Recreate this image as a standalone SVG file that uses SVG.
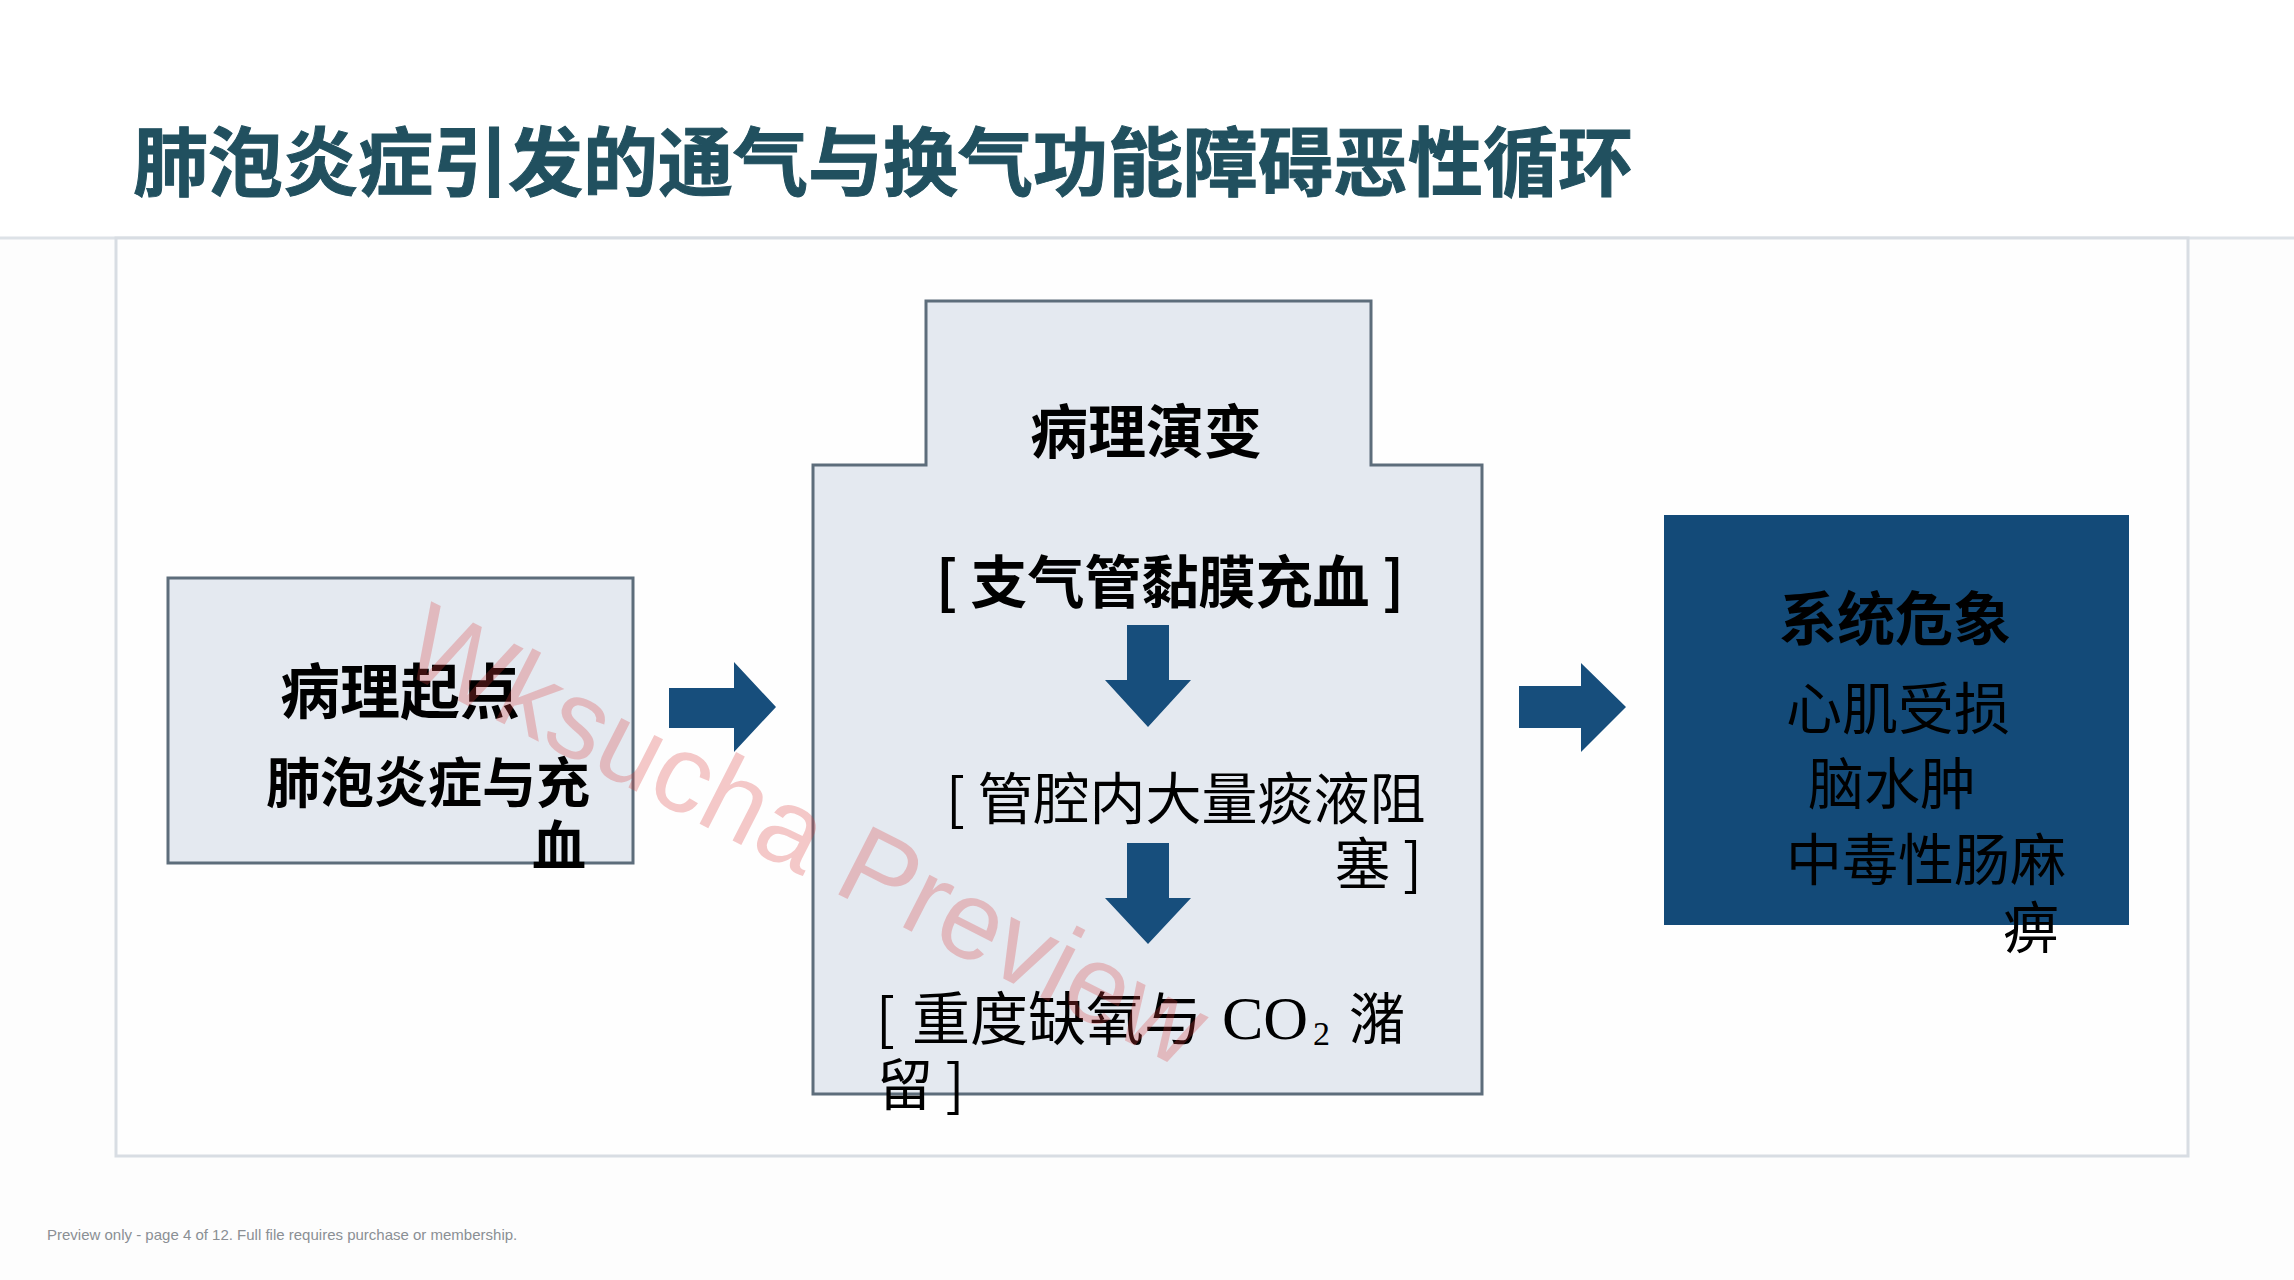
<svg xmlns="http://www.w3.org/2000/svg" width="2294" height="1280" viewBox="0 0 2294 1280">
  <defs>
    <style>
      .cjk { font-family: "Noto Sans CJK SC", "Noto Sans", sans-serif; }
      .b { font-weight: 700; }
      .blk { fill: #000000; }
      .box { fill: #e4e9f0; stroke: #5d6d7b; stroke-width: 3; }
      .arrow { fill: #174e7c; }
      .frame { fill: #fefefe; stroke: #d8dde3; stroke-width: 3; }
    </style>
  </defs>

  <rect x="0" y="0" width="2294" height="1280" fill="#fdfdfd"/>

  <!-- header -->
  <g id="header">
    <rect x="0" y="0" width="2294" height="237" fill="#ffffff"/>
    <line x1="0" y1="238" x2="2294" y2="238" stroke="#dde2e7" stroke-width="3"/>
    <text class="cjk b" x="133" y="190" font-size="75" fill="#21505f" stroke="#21505f" stroke-width="1">肺泡炎症引发的通气与换气功能障碍恶性循环</text>
  </g>

  <!-- panel -->
  <rect class="frame" x="116" y="238" width="2072" height="918"/>

  <!-- node: start -->
  <g id="node-start">
    <rect class="box" x="168" y="578" width="465" height="285"/>
    <text class="cjk b blk" x="280" y="714" font-size="60">病理起点</text>
    <text class="cjk b blk" x="266" y="803" font-size="54">肺泡炎症与充</text>
    <text class="cjk b blk" x="532" y="866" font-size="54">血</text>
  </g>

  <!-- node: evolution -->
  <g id="node-evolution">
    <path class="box" d="M926,301 H1371 V465 H1482 V1094 H813 V465 H926 Z"/>
    <text class="cjk b blk" x="1146" y="453" font-size="58" text-anchor="middle">病理演变</text>
    <text class="cjk b blk" x="1170" y="603" font-size="57" text-anchor="middle">[ 支气管黏膜充血 ]</text>
    <text class="cjk blk" x="946" y="819" font-size="56">[ 管腔内大量痰液阻</text>
    <text class="cjk blk" x="1422" y="884" font-size="56" text-anchor="end">塞 ]</text>
    <text class="cjk blk" x="876" y="1039" font-size="56">[</text>
    <text class="cjk blk" x="912" y="1040" font-size="58">重度缺氧与</text>
    <text class="blk" x="1222" y="1039" font-size="62" font-family="Liberation Serif, serif">CO</text>
    <text class="blk" x="1313" y="1045" font-size="34" font-family="Liberation Serif, serif">2</text>
    <text class="cjk blk" x="1349" y="1039" font-size="56">潴</text>
    <text class="cjk blk" x="877" y="1105" font-size="56">留 ]</text>
  </g>

  <!-- node: crisis -->
  <g id="node-crisis">
    <rect x="1664" y="515" width="465" height="410" fill="#134a78"/>
    <text class="cjk b blk" x="1895" y="640" font-size="58" text-anchor="middle">系统危象</text>
    <text class="cjk blk" x="1786" y="729" font-size="56">心肌受损</text>
    <text class="cjk blk" x="1808" y="804" font-size="56">脑水肿</text>
    <text class="cjk blk" x="1786" y="880" font-size="56">中毒性肠麻</text>
    <text class="cjk blk" x="2003" y="948" font-size="56">痹</text>
  </g>

  <!-- connectors -->
  <g id="connectors">
    <polygon class="arrow" points="669,688 734,688 734,662 776,707 734,752 734,728 669,728"/>
    <polygon class="arrow" points="1519,686 1581,686 1581,663 1626,707 1581,752 1581,728 1519,728"/>
    <polygon class="arrow" points="1127,625 1169,625 1169,680 1191,680 1148,727 1105,680 1127,680"/>
    <polygon class="arrow" points="1127,843 1169,843 1169,898 1191,898 1148,944 1105,898 1127,898"/>
  </g>

  <!-- watermark -->
  <text x="0" y="0" transform="translate(396,669) rotate(27)" font-family="Liberation Sans, Arial, sans-serif" font-size="111" fill="#dc3c3c" fill-opacity="0.28">Wksucha Preview</text>

  <!-- footer -->
  <text x="47" y="1240" font-family="Liberation Sans, Arial, sans-serif" font-size="15" fill="#8a8f94">Preview only - page 4 of 12. Full file requires purchase or membership.</text>
</svg>
